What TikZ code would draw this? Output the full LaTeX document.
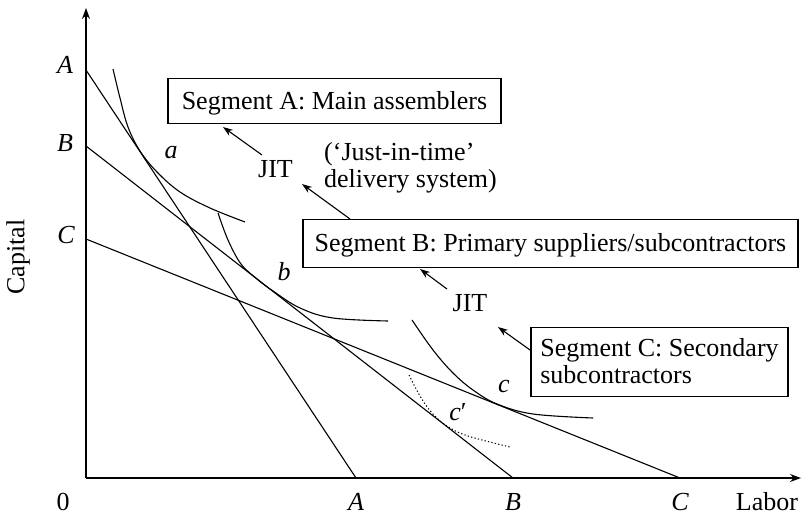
\documentclass[tikz,border=0pt]{standalone}
\usepackage{fontspec}
\setmainfont{Liberation Serif}
\usetikzlibrary{arrows.meta}
\begin{document}
\begin{tikzpicture}[x=1pt,y=-1pt,
  txt/.style={font=\fontsize{26}{27}\selectfont, inner sep=0pt},
  ital/.style={inner sep=0pt, font=\fontsize{26}{27}\selectfont\itshape},
  segbox/.style={txt, draw, line width=1.1pt},
  isoquant/.style={line width=1.1pt},
  isocost/.style={line width=1.1pt},
  axis/.style={line width=1.3pt, -{Stealth[length=11pt,width=8pt]}},
  pointer/.style={line width=1.1pt, -{Stealth[length=10pt,width=7pt]}},
]
\useasboundingbox (0,0) rectangle (802,514);

% axes
\coordinate (O) at (86,478);
\coordinate (ytop) at (86,8);
\coordinate (xend) at (801,478);
\draw[axis] (O) -- (ytop);
\draw[axis] (O) -- (xend);

% isocost lines
\coordinate (yA) at (86,70);
\coordinate (yB) at (86,146);
\coordinate (yC) at (86,239);
\coordinate (xA) at (356,478);
\coordinate (xB) at (513,478);
\coordinate (xC) at (680,478);
\draw[isocost] (yA) -- (xA);
\draw[isocost] (yB) -- (xB);
\draw[isocost] (yC) -- (xC);

% isoquants
\draw[isoquant] plot[smooth, tension=0.6] coordinates
  {(113,69) (120,98) (128,127) (140,151) (157,172) (180,192) (210,208) (245,222)};
\draw[isoquant] plot[smooth, tension=0.6] coordinates
  {(218,213) (228,240) (241,264) (257,279) (273,291) (300,308) (333,318) (388,321)};
\draw[isoquant] plot[smooth, tension=0.6] coordinates
  {(412,320) (433,350) (453,373) (473,390) (497,404) (533,414) (593,418)};
\draw[isoquant, line width=1pt, dash pattern=on 1.3pt off 2.2pt] plot[smooth, tension=0.6] coordinates
  {(409,375) (420,396) (432,413) (447,426) (468,436) (510,447)};

% axis labels
\node[ital] (lyA) at (65,65) {A};
\node[ital] (lyB) at (65,143) {B};
\node[ital] (lyC) at (66,235) {C};
\node[txt] (l0) at (63,502) {0};
\node[ital] (lxA) at (356,502) {A};
\node[ital] (lxB) at (513,502) {B};
\node[ital] (lxC) at (680,502) {C};
\node[txt] (labor) at (767,502) {Labor};
\node[txt, rotate=90] (capital) at (18,257) {Capital};

% tangency point labels
\node[ital] (la) at (171,153) {a};
\node[ital] (lb) at (284,272) {b};
\node[ital] (lc) at (504,386) {c};
\node[ital] (lc2) at (458,412) {c\upshape′};

% segment boxes
\node[segbox, minimum width=333pt, text height=31.3pt, text depth=13.7pt] (boxA)
  at (334.5,78) [anchor=north] {Segment A: Main assemblers};
\node[segbox, minimum width=495pt, text height=31.7pt, text depth=16.3pt] (boxB)
  at (550.5,219) [anchor=north] {Segment B: Primary suppliers/subcontractors};
\node[segbox, align=left, minimum width=257pt, minimum height=69pt] (boxC)
  at (659.5,361.6) {Segment C: Secondary\\subcontractors};

% JIT labels and note
\node[txt] (jitA) at (275.5,169) {JIT};
\node[txt] (jitB) at (470,303.5) {JIT};
\node[txt, align=left, anchor=west] (note) at (324,167.3) {(‘Just-in-time’\\delivery system)};

% pointers
\coordinate (p1s) at (262,155);
\coordinate (p1e) at (223,127);
\coordinate (p2s) at (350,219);
\coordinate (p2e) at (302,184);
\coordinate (p3s) at (447,289);
\coordinate (p3e) at (420,269);
\coordinate (p4s) at (530,350);
\coordinate (p4e) at (498,327);
\draw[pointer] (p1s) -- (p1e);
\draw[pointer] (p2s) -- (p2e);
\draw[pointer] (p3s) -- (p3e);
\draw[pointer] (p4s) -- (p4e);
\end{tikzpicture}
\end{document}
